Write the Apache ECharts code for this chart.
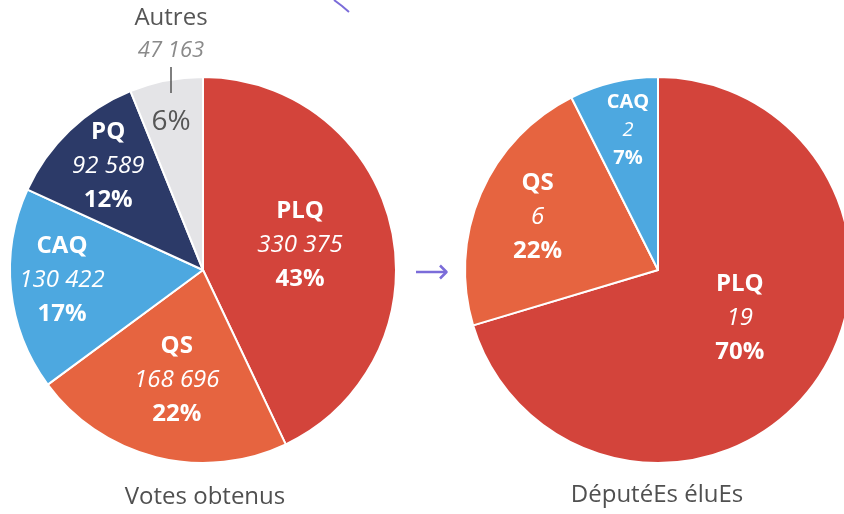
<!DOCTYPE html>
<html><head><meta charset="utf-8">
<script src="https://cdn.jsdelivr.net/npm/echarts@6/dist/echarts.min.js"></script>
<style>html,body{margin:0;padding:0;background:#fff}#c{width:844px;height:514px}</style>
</head><body><div id="c"></div>
<script>
const voteParties = ['PLQ', 'QS', 'CAQ', 'PQ', 'Autres'];
const voteCounts = [330375, 168696, 130422, 92589, 47163];
const seatParties = ['PLQ', 'QS', 'CAQ'];
const seatCounts = [19, 6, 2];
const panelTitles = ['Votes obtenus', 'DéputéEs éluEs'];

const partyColors = { PLQ: '#D3443B', QS: '#E66440', CAQ: '#4DA8E0', PQ: '#2C3A68', Autres: '#E4E4E7' };
const FONT = '"Open Sans", "Liberation Sans", sans-serif';
const fmt = n => String(n).replace(/\B(?=(\d{3})+(?!\d))/g, ' ');
const leftOffsets = { PLQ: [0, -3], QS: [-2, 14], CAQ: [-42, 0], PQ: [-26, -32], Autres: [0, 0] };
const rightOffsets = { PLQ: [2, -11], QS: [-29, -13], CAQ: [-7, -43] };
const autresLabelPos = { x: 171, y: 76 };

const rich = {
  n: { fontFamily: FONT, fontWeight: 'bold', fontSize: 24, color: '#fff', lineHeight: 34 },
  v: { fontFamily: FONT, fontStyle: 'italic', fontSize: 24, color: '#fff', lineHeight: 34 },
  p: { fontFamily: FONT, fontWeight: 'bold', fontSize: 24, color: '#fff', lineHeight: 34 },
  ns: { fontFamily: FONT, fontWeight: 'bold', fontSize: 20, color: '#fff', lineHeight: 28 },
  vs: { fontFamily: FONT, fontStyle: 'italic', fontSize: 20, color: '#fff', lineHeight: 28 },
  ps: { fontFamily: FONT, fontWeight: 'bold', fontSize: 20, color: '#fff', lineHeight: 28 },
  an: { fontFamily: FONT, fontSize: 24, color: '#555', lineHeight: 34, align: 'center' },
  av: { fontFamily: FONT, fontStyle: 'italic', fontSize: 22, color: '#8a8a8a', lineHeight: 32, align: 'center' },
  tick: { width: 1.5, height: 26, backgroundColor: '#555', lineHeight: 26, align: 'center' },
  ap: { fontFamily: FONT, fontSize: 28, color: '#555', lineHeight: 58, align: 'center' }
};

function labelFor(name, value, pct, offset) {
  if (name === 'Autres') {
    return {
      show: true, position: 'outside', align: 'center', verticalAlign: 'middle',
      formatter: '{an|' + name + '}\n{av|' + fmt(value) + '}\n{tick|}\n{ap|' + pct + '%}',
      rich: rich
    };
  }
  let fm;
  if (name === 'CAQ' && value < 100) {
    fm = '{ns|' + name + '}\n{vs|' + fmt(value) + '}\n{ps|' + pct + '%}';
  } else {
    fm = '{n|' + name + '}\n{v|' + fmt(value) + '}\n{p|' + pct + '%}';
  }
  return { show: true, position: 'inside', formatter: fm, offset: offset, rich: rich, align: 'center' };
}

function buildData(names, values, offsets) {
  const total = values.reduce((a, b) => a + b, 0);
  return names.map((nm, i) => ({
    name: nm,
    value: values[i],
    itemStyle: { color: partyColors[nm] },
    label: labelFor(nm, values[i], Math.round(values[i] / total * 100), offsets[nm]),
    labelLine: { show: false }
  }));
}

const chart = echarts.init(document.getElementById('c'), null, { renderer: 'canvas' });
const common = {
  type: 'pie', radius: 193, startAngle: 90, clockwise: true,
  itemStyle: { borderColor: '#fff', borderWidth: 2 },
  labelLine: { show: false }, emphasis: { disabled: true }, silent: true,
  avoidLabelOverlap: false
};
chart.setOption({
  animation: false,
  backgroundColor: '#fff',
  series: [
    Object.assign({}, common, {
      center: [203, 270], data: buildData(voteParties, voteCounts, leftOffsets),
      labelLayout: function (p) {
        if (p.dataIndex === voteParties.indexOf('Autres')) {
          return { x: autresLabelPos.x, y: autresLabelPos.y, align: 'center', verticalAlign: 'middle' };
        }
      }
    }),
    Object.assign({}, common, { center: [658, 270], data: buildData(seatParties, seatCounts, rightOffsets) })
  ],
  graphic: [
    { type: 'text', x: 205, y: 497, style: { text: panelTitles[0], font: '24px ' + FONT, fill: '#505050', align: 'center', verticalAlign: 'middle' } },
    { type: 'text', x: 657, y: 495, style: { text: panelTitles[1], font: '24px ' + FONT, fill: '#505050', align: 'center', verticalAlign: 'middle' } },
    { type: 'polyline', shape: { points: [[416, 272], [446, 272]] }, style: { stroke: '#7B6CD9', lineWidth: 2.5, fill: null } },
    { type: 'polyline', shape: { points: [[440, 265.5], [446.5, 272], [440, 278.5]] }, style: { stroke: '#7B6CD9', lineWidth: 2.5, fill: null, lineJoin: 'round' } },
    { type: 'polyline', shape: { points: [[334, 0], [342, 6], [349, 12]] }, style: { stroke: '#7B6CD9', lineWidth: 2, fill: null } }
  ]
});
</script></body></html>
